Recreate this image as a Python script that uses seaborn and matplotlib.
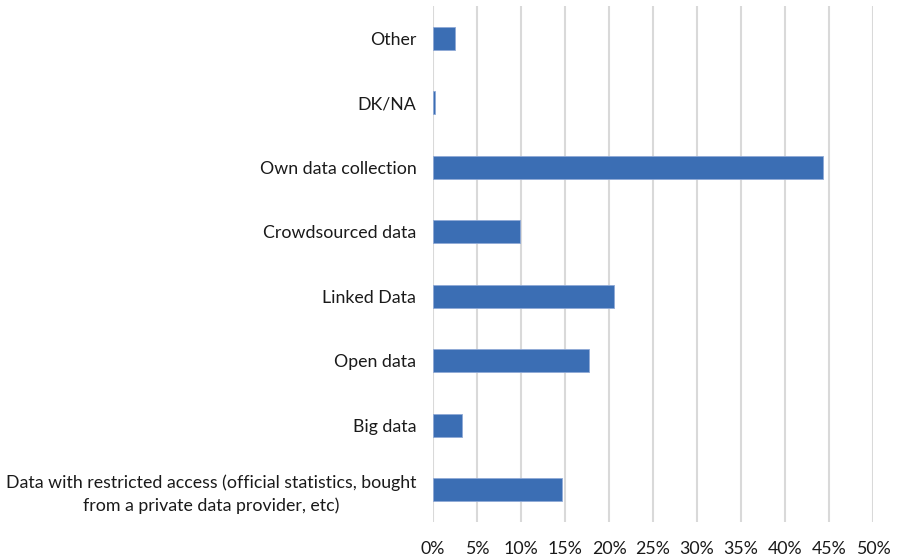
import matplotlib
matplotlib.use("Agg")
import matplotlib.pyplot as plt
import seaborn as sns
import pandas as pd
from matplotlib.ticker import PercentFormatter

categories = [
    "Other",
    "DK/NA",
    "Own data collection",
    "Crowdsourced data",
    "Linked Data",
    "Open data",
    "Big data",
    "Data with restricted access (official statistics, bought\nfrom a private data provider, etc)",
]
values = [2.5, 0.25, 44.3, 9.9, 20.6, 17.7, 3.3, 14.7]
x_ticks = [0, 5, 10, 15, 20, 25, 30, 35, 40, 45, 50]

sns.set_theme(style="white")
plt.rcParams["font.family"] = ["Lato", "DejaVu Sans"]

df = pd.DataFrame({"category": categories, "value": values})

fig = plt.figure(figsize=(8.98, 5.57), dpi=100)
ax = fig.add_axes([433 / 898, 1 - 522 / 557, 440 / 898, 516 / 557])

sns.barplot(data=df, x="value", y="category", orient="h", color="#3B6EB4",
            saturation=1, width=0.36, edgecolor="#8FA9D6", linewidth=0.6, ax=ax)

ax.set_xlim(0, 50)
ax.set_xticks(x_ticks)
ax.xaxis.set_major_formatter(PercentFormatter(decimals=0))
ax.grid(axis="x", color="#D9D9D9", linewidth=1.5)
ax.set_axisbelow(True)
for s in ax.spines.values():
    s.set_visible(False)
ax.set_xlabel("")
ax.set_ylabel("")
ax.tick_params(axis="y", length=0, pad=12, labelsize=12.8, colors="#1a1a1a")
ax.tick_params(axis="x", length=0, pad=14, labelsize=12.8, colors="#1a1a1a")
for lbl in ax.get_yticklabels():
    lbl.set_multialignment("center")
    lbl.set_linespacing(1.45)

fig.savefig("out.png", dpi=100)
